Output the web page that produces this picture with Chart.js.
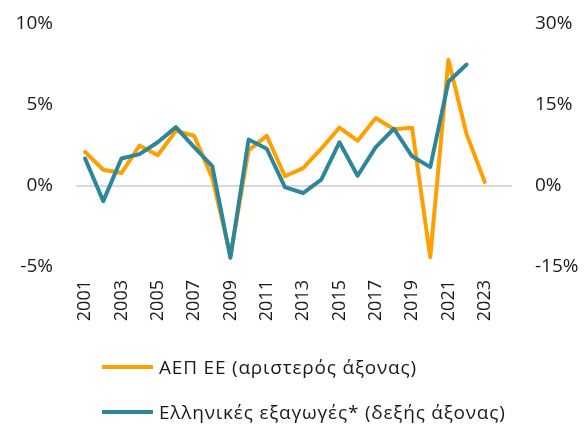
<!DOCTYPE html>
<html>
<head>
<meta charset="utf-8">
<script src="https://cdn.jsdelivr.net/npm/chart.js@4"></script>
<style>
  html, body { margin: 0; padding: 0; background: #fff; }
  #wrap { position: relative; width: 585px; height: 424px; }
  #legend { position: absolute; left: 102px; top: 0; font-family: "Open Sans", sans-serif; font-size: 19px; letter-spacing: 0.8px; color: #1a1a1a; }
  .item { position: absolute; left: 0; display: flex; align-items: center; white-space: nowrap; }
  .swatch { width: 51px; height: 4px; margin-right: 6px; }
</style>
</head>
<body>
<div id="wrap">
  <canvas id="chart" width="585" height="424"></canvas>
  <div id="legend">
    <div class="item" style="top: 354px;"><span class="swatch" style="background:#ff9f00"></span>ΑΕΠ ΕΕ (αριστερός άξονας)</div>
    <div class="item" style="top: 399px;"><span class="swatch" style="background:#2e869a"></span>Ελληνικές εξαγωγές* (δεξής άξονας)</div>
  </div>
</div>
<script>
// years on the x axis (2024 is an empty slot, as in the original)
const years = ['2001', '2002', '2003', '2004', '2005', '2006', '2007', '2008', '2009', '2010',
  '2011', '2012', '2013', '2014', '2015', '2016', '2017', '2018', '2019', '2020',
  '2021', '2022', '2023', '2024'];

// EU GDP growth, % (left axis)
const euGdp = [2.1, 1.0, 0.8, 2.5, 1.9, 3.4, 3.1, 0.5, -4.3, 2.2,
  3.1, 0.6, 1.1, 2.3, 3.6, 2.8, 4.2, 3.5, 3.6, -4.4,
  7.8, 3.2, 0.25, null];

// Greek exports growth, % (right axis)
const greekExports = [5.1, -2.8, 5.1, 5.9, 8.1, 10.9, 7.2, 3.7, -13.3, 8.6,
  6.9, -0.2, -1.3, 1.2, 8.1, 1.9, 7.2, 10.6, 5.5, 3.5,
  19.3, 22.5, null, null];

const font = { family: 'Open Sans', size: 18 };
const textColor = '#1a1a1a';

// keep the tick padding horizontal only, so the plot can reach the top label
function fixVertical(width) {
  return function (scale) {
    scale.width = width;
    scale.paddingTop = 0;
    scale.paddingBottom = 0;
  };
}

new Chart(document.getElementById('chart'), {
  type: 'line',
  data: {
    labels: years,
    datasets: [
      {
        label: 'ΑΕΠ ΕΕ (αριστερός άξονας)',
        data: euGdp,
        borderColor: '#ff9f00',
        borderWidth: 4,
        borderJoinStyle: 'round',
        borderCapStyle: 'round',
        pointRadius: 0,
        tension: 0,
        yAxisID: 'y',
        order: 1
      },
      {
        label: 'Ελληνικές εξαγωγές* (δεξής άξονας)',
        data: greekExports,
        borderColor: '#2e869a',
        borderWidth: 4,
        borderJoinStyle: 'round',
        borderCapStyle: 'round',
        pointRadius: 0,
        tension: 0,
        yAxisID: 'y1',
        order: 0
      }
    ]
  },
  options: {
    responsive: false,
    animation: false,
    layout: { padding: { top: 24, left: 0, right: 0, bottom: 0 } },
    plugins: {
      legend: { display: false },
      tooltip: { enabled: false }
    },
    scales: {
      x: {
        offset: true,
        grid: { display: false },
        border: { display: false },
        ticks: {
          autoSkip: false,
          minRotation: 90,
          maxRotation: 90,
          padding: 5,
          font: font,
          color: textColor,
          callback: function (val, i) {
            const y = parseInt(years[i]);
            return (y % 2 === 1) ? years[i] : '';
          }
        },
        afterFit: function (scale) { scale.height = 157; }
      },
      y: {
        position: 'left',
        min: -5,
        max: 10,
        border: { display: false },
        grid: {
          drawTicks: false,
          lineWidth: 2,
          color: ctx => ctx.tick && ctx.tick.value === 0 ? '#d9d9d9' : 'rgba(0,0,0,0)'
        },
        ticks: {
          stepSize: 5,
          padding: 23,
          font: { family: 'Open Sans', size: 19 },
          color: textColor,
          callback: v => v + '%'
        },
        afterFit: fixVertical(76)
      },
      y1: {
        position: 'right',
        min: -15,
        max: 30,
        border: { display: false },
        grid: { display: false, drawTicks: false },
        ticks: {
          stepSize: 15,
          padding: 23,
          font: { family: 'Open Sans', size: 19 },
          color: textColor,
          callback: v => v + '%'
        },
        afterFit: fixVertical(73)
      }
    }
  }
});
</script>
</body>
</html>
